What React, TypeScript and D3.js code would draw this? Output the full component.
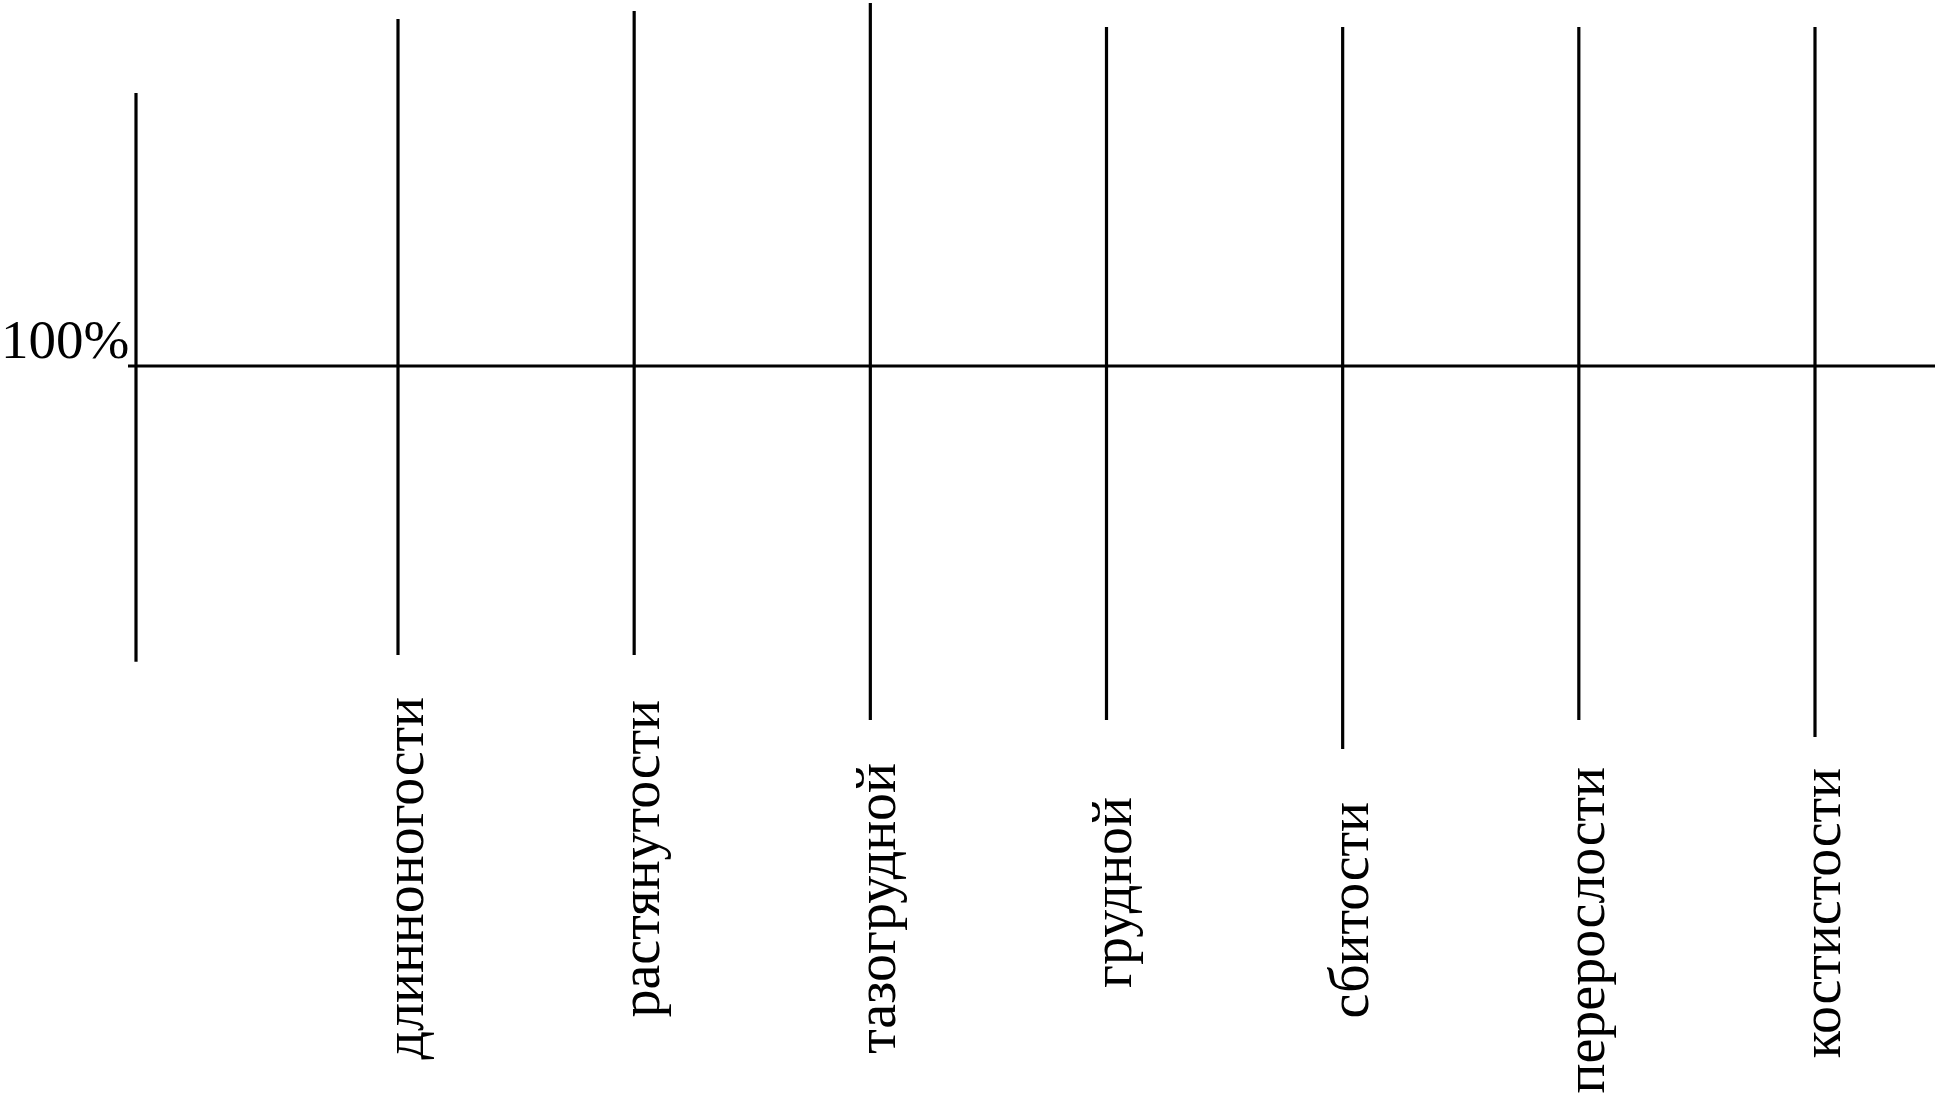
import React from "react";
import * as d3 from "d3";

// Categories (indices of body build) drawn as vertical lines
const categories = [
  "длинноногости",
  "растянутости",
  "тазогрудной",
  "грудной",
  "сбитости",
  "перерослости",
  "костистости",
];
// Extents of each vertical line, in percent units (100% = baseline)
const lineTop = [195.6, 197.8, 200, 193.4, 193.4, 193.4, 193.4];
const lineBottom = [20.4, 20.4, 2.5, 2.5, -5.5, 2.5, -2.2];
// Left axis extent in percent units
const axisTop = [175.2];
const axisBottom = [18.5];
// Reference level label
const refLevel = [100];
const refLabel = ["100%"];
// Gap (px) between each line's end and its label
const labelGap = [42, 45, 43, 77, 53, 47, 31];

const W = 1937;
const H = 1106;
const FONT = '"Liberation Serif", "Times New Roman", serif';

export default function App() {
  const y = d3.scaleLinear().domain([0, 200]).range([729, 3]);
  const x = d3.scalePoint<string>().domain(categories).range([398, 1815]);
  const axisX = 136;
  const lineStart = 128;
  const lineEnd = W - 2;
  const sw = 3.2;

  return (
    <svg
      width={W}
      height={H}
      style={{ position: "absolute", left: 0, top: 0, background: "#fff" }}
    >
      <rect x={0} y={0} width={W} height={H} fill="#fff" />
      {/* left axis */}
      <line
        x1={axisX}
        x2={axisX}
        y1={y(axisTop[0])}
        y2={y(axisBottom[0])}
        stroke="#000"
        strokeWidth={sw}
      />
      {/* reference 100% line */}
      <line
        x1={lineStart}
        x2={lineEnd}
        y1={y(refLevel[0])}
        y2={y(refLevel[0])}
        stroke="#000"
        strokeWidth={sw}
      />
      <text
        x={1}
        y={y(refLevel[0]) - 8}
        textAnchor="start"
        fontFamily={FONT}
        fontSize={55}
        fill="#000"
      >
        {refLabel[0]}
      </text>
      {categories.map((c, i) => {
        const cx = x(c) as number;
        const yb = y(lineBottom[i]);
        const ly = yb + labelGap[i];
        const lx = cx + 25;
        return (
          <g key={c}>
            <line
              x1={cx}
              x2={cx}
              y1={y(lineTop[i])}
              y2={yb}
              stroke="#000"
              strokeWidth={sw}
            />
            <text
              x={lx}
              y={ly}
              transform={`rotate(-90 ${lx} ${ly})`}
              textAnchor="end"
              fontFamily={FONT}
              fontSize={56}
              fill="#000"
            >
              {c}
            </text>
          </g>
        );
      })}
    </svg>
  );
}
